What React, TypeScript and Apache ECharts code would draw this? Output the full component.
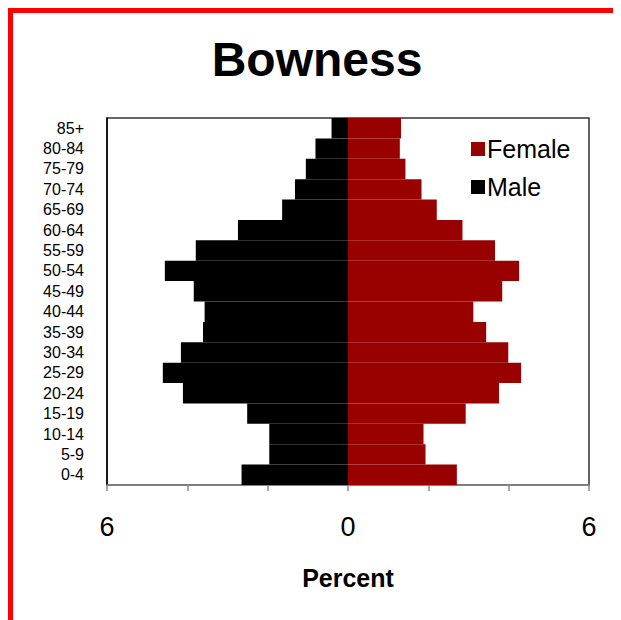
import React, { useEffect, useRef } from "react";
import * as echarts from "echarts";

const categories = ["0-4", "5-9", "10-14", "15-19", "20-24", "25-29", "30-34", "35-39", "40-44", "45-49", "50-54", "55-59", "60-64", "65-69", "70-74", "75-79", "80-84", "85+"];
const maleValues = [2.65, 1.96, 1.96, 2.51, 4.11, 4.61, 4.16, 3.61, 3.57, 3.84, 4.56, 3.79, 2.74, 1.64, 1.32, 1.05, 0.81, 0.41];
const femaleValues = [2.71, 1.93, 1.88, 2.93, 3.76, 4.31, 3.99, 3.44, 3.12, 3.84, 4.26, 3.66, 2.85, 2.21, 1.83, 1.43, 1.29, 1.32];
const xTickLabels = [-6, 0, 6];

const FONT = "'Liberation Sans', Arial, sans-serif";

export default function App() {
  const ref = useRef<HTMLDivElement>(null);
  useEffect(() => {
    if (!ref.current) return;
    const chart = echarts.init(ref.current, null, { renderer: "svg" });
    chart.setOption({
      animation: false,
      backgroundColor: "#ffffff",
      title: {
        text: "Bowness",
        left: "center",
        top: 17,
        textStyle: { fontFamily: FONT, fontSize: 48, fontWeight: "bold", color: "#000" },
      },
      legend: {
        data: ["Female", "Male"],
        orient: "vertical",
        left: 453,
        top: 118,
        itemWidth: 14,
        itemHeight: 14,
        itemGap: 12,
        icon: "rect",
        textStyle: { fontFamily: FONT, fontSize: 25, color: "#000", lineHeight: 26, padding: [0, 0, 0, -3] },
      },
      grid: {
        left: 94,
        right: 32,
        top: 105,
        bottom: 135,
        show: true,
        borderColor: "#333",
        borderWidth: 1.5,
        backgroundColor: "#fff",
      },
      xAxis: {
        type: "value",
        min: -6,
        max: 6,
        interval: 2,
        name: "Percent",
        nameLocation: "middle",
        nameGap: 80,
        nameTextStyle: { fontFamily: FONT, fontSize: 25, fontWeight: "bold", color: "#000" },
        axisLine: { show: true, onZero: false, lineStyle: { color: "#888", width: 1.5 } },
        axisTick: { show: true, length: 6, lineStyle: { color: "#888", width: 1.5 } },
        splitLine: { show: false },
        axisLabel: {
          margin: 28,
          fontFamily: FONT,
          fontSize: 27,
          color: "#000",
          formatter: (v: number) => (xTickLabels.indexOf(v) >= 0 ? String(Math.abs(v)) : ""),
        },
      },
      yAxis: {
        type: "category",
        data: categories,
        axisLine: { show: true, onZero: false, lineStyle: { color: "#000", width: 1.5 } },
        axisTick: { show: false },
        axisLabel: { margin: 23, fontFamily: FONT, fontSize: 16, color: "#000", interval: 0 },
      },
      series: [
        {
          name: "Male",
          type: "bar",
          data: maleValues.map((v) => -v),
          itemStyle: { color: "#000000" },
          barCategoryGap: 0,
          barGap: "-100%",
        },
        {
          name: "Female",
          type: "bar",
          data: femaleValues,
          itemStyle: { color: "#990000" },
          barCategoryGap: 0,
          barGap: "-100%",
        },
      ],
    });
    return () => chart.dispose();
  }, []);
  return (
    <div style={{ borderTop: "5px solid #ff0000", borderLeft: "5px solid #ff0000", width: 608, height: 607, background: "#fff" }}>
      <div ref={ref} style={{ width: 608, height: 607 }} />
    </div>
  );
}
